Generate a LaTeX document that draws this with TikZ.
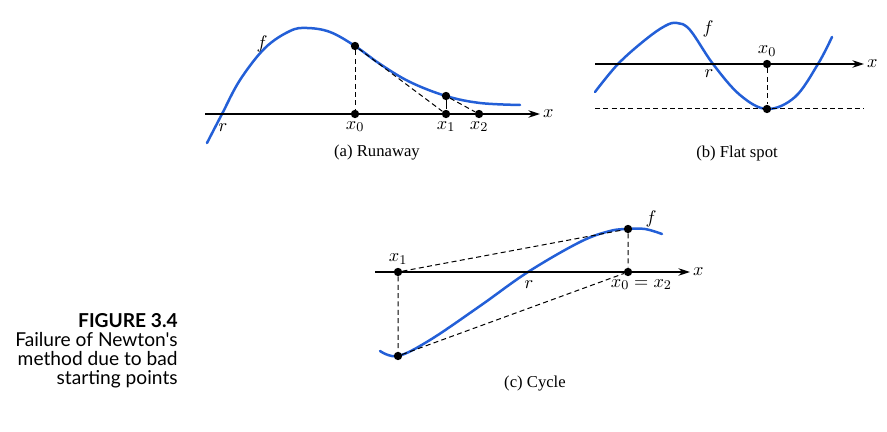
\documentclass[tikz,border=0pt]{standalone}
\usepackage{fontspec}
\setmainfont{Liberation Serif}
\newfontfamily\capfont{Lato}
\usetikzlibrary{arrows.meta}
\definecolor{curveblue}{RGB}{35,95,215}
\begin{document}
\begin{tikzpicture}[x=0.6pt,y=-0.6pt,
    curve/.style={curveblue,line width=1.5pt,line cap=round},
    axis/.style={line width=0.8pt,-{Stealth[length=7pt,width=4.5pt]}},
    guide/.style={line width=0.6pt,dash pattern=on 3pt off 2pt},
    dot/.style={circle,fill,inner sep=0pt,minimum size=5pt},
    tag/.style={inner sep=1.5pt,font=\fontsize{11}{13}\selectfont}]
  \useasboundingbox (0,0) rectangle (887,432);
  % (a) runaway
  \draw[curve] plot[smooth,tension=0.6] coordinates {(207,143) (222,114) (240,80) (265,48) (290,31) (307,28) (330,32) (355,46) (380,64) (410,82) (446,96) (480,103) (520,105)};
  \coordinate (a-start) at (205,114);
  \coordinate (a-end) at (540,114);
  \draw[axis] (a-start) -- (a-end) node[right,tag] (a-x) {$x$};
  \node[tag] (a-r) at (223,128) {$r$};
  \node[tag] (a-f) at (262,44) {$f$};
  \node[dot] (a-p0) at (355,46) {};
  \node[dot] (a-x0) at (355,114) [label={[tag]below:$x_0$}] {};
  \node[dot] (a-p1) at (446,96) {};
  \node[dot] (a-x1) at (446,114) [label={[tag]below:$x_1$}] {};
  \node[dot] (a-x2) at (479,114) [label={[tag]below:$x_2$}] {};
  \draw[guide] (a-p0) -- (a-x0);
  \draw[guide] (a-p0) -- (a-x1);
  \draw[line width=0.6pt] (a-p1) -- (a-x1);
  \draw[guide] (a-p1) -- (a-x2);
  \node (a-cap) at (377,153) {(a) Runaway};
  % (b) flat spot
  \draw[curve] plot[smooth,tension=0.6] coordinates {(595,92) (618,64) (645,40) (665,26) (677,23) (690,30) (713,64) (740,95) (767,109) (795,97) (818,64) (832,37)};
  \coordinate (b-start) at (595,64);
  \coordinate (b-end) at (864,64);
  \draw[axis] (b-start) -- (b-end) node[right,tag] (b-x) {$x$};
  \node[tag] (b-r) at (709,74) {$r$};
  \node[tag] (b-f) at (708,29) {$f$};
  \node[dot] (b-x0) at (767,64) [label={[tag]above:$x_0$}] {};
  \node[dot] (b-p0) at (767,109) {};
  \coordinate (b-left) at (595,109);
  \coordinate (b-right) at (864,109);
  \draw[guide] (b-left) -- (b-p0) -- (b-right);
  \draw[guide] (b-x0) -- (b-p0);
  \node (b-cap) at (737,153) {(b) Flat spot};
  % (c) cycle
  \draw[curve] plot[smooth,tension=0.6] coordinates {(380,351) (398,356) (430,340) (480,306) (528,272) (580,242) (610,231) (628,229) (645,229) (662,234)};
  \coordinate (c-start) at (375,272);
  \coordinate (c-end) at (690,272);
  \draw[axis] (c-start) -- (c-end) node[right,tag] (c-x) {$x$};
  \node[tag] (c-r) at (529,285) {$r$};
  \node[tag] (c-f) at (651,219) {$f$};
  \node[dot] (c-x1) at (398,272) [label={[tag]above:$x_1$}] {};
  \node[dot] (c-p1) at (398,356) {};
  \node[dot] (c-x0) at (628,272) [label={[tag,xshift=8pt]below:$x_0=x_2$}] {};
  \node[dot] (c-p0) at (628,229) {};
  \draw[guide] (c-x1) -- (c-p0) -- (c-x0);
  \draw[guide] (c-x1) -- (c-p1) -- (c-x0);
  \node (c-cap) at (535,384) {(c) Cycle};
  % figure caption
  \node[anchor=north east,align=right,inner sep=0pt,font=\capfont\fontsize{11.5}{11.5}\selectfont] (fig-cap) at (178,313)
    {{\bfseries FIGURE 3.4}\\Failure of Newton's\\method due to bad\\starting points};
\end{tikzpicture}
\end{document}
